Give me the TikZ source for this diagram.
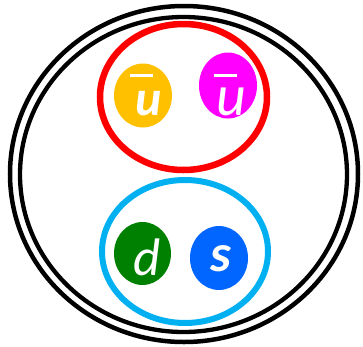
\documentclass[tikz,border=0pt]{standalone}
\usepackage{fontspec}
\setmainfont{Carlito}
\usepackage{tikz}
\usetikzlibrary{shapes.geometric}

\begin{document}
\begin{tikzpicture}[x=1bp, y=-1bp,
		ring/.style={ellipse, draw, inner sep=0pt},
		quark/.style={ellipse, inner sep=0pt, minimum width=58bp, minimum height=64bp},
		qlab/.style={anchor=base, inner sep=0pt, text=white},
		antibar/.style={draw=white, line width=3.2bp}
	]
	\useasboundingbox (0,0) rectangle (363,347);

	% hadron: double black border
	\node[ring, line width=4.5bp, minimum width=348bp, minimum height=336bp]
		(hadron) at (184,174) {};
	\node[ring, line width=4.3bp, minimum width=327bp, minimum height=315bp]
		(hadronin) at (183.5,174.5) {};

	% the two pairs
	\node[ring, draw=red, line width=6.5bp, minimum width=167bp, minimum height=146bp]
		(ubarpair) at (183.5,97) {};
	\node[ring, draw={rgb,255:red,0;green,176;blue,240}, line width=6bp,
		minimum width=166bp, minimum height=143bp] (dspair) at (185,251.5) {};

	% quarks
	\node[quark, fill={rgb,255:red,255;green,192;blue,0}] (ubarL) at (143,95.5) {};
	\node[quark, fill={rgb,255:red,255;green,0;blue,255}, minimum height=66bp]
		(ubarR) at (228,85.5) {};
	\node[quark, fill={rgb,255:red,0;green,128;blue,0}, minimum width=57bp,
		minimum height=63bp] (dq) at (142.5,253.5) {};
	\node[quark, fill={rgb,255:red,0;green,102;blue,255}] (sq) at (219,258) {};

	% letters, set on their baselines
	\node[qlab, font=\fontsize{50}{50}\selectfont\bfseries\itshape] (ubarLlab) at (149,115) {u};
	\node[qlab, font=\fontsize{58}{58}\selectfont\itshape] (ubarRlab) at (231,115) {u};
	\node[qlab, font=\fontsize{53}{53}\selectfont\itshape] (dlab) at (147,275) {d};
	\node[qlab, font=\fontsize{53}{53}\selectfont\bfseries\itshape] (slab) at (220.5,271) {s};

	% anti-quark bars, upright, not slanted with the letter
	\draw[antibar] ([shift={(-19,-39.5)}]ubarLlab.base) -- ++(23,0);
	\draw[antibar] ([shift={(-17.5,-39.5)}]ubarRlab.base) -- ++(23,0);
\end{tikzpicture}
\end{document}
